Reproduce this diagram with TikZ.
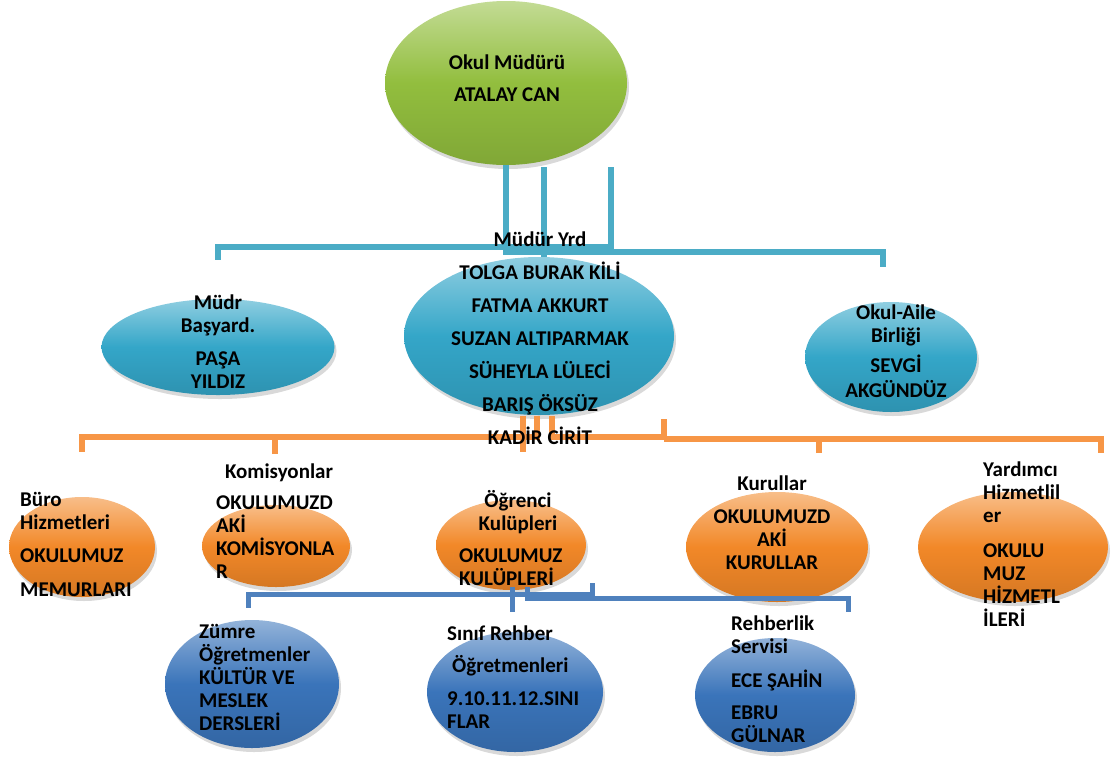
\documentclass[tikz,border=0pt]{standalone}
\usepackage{fontspec}
\setmainfont{Carlito}
\usetikzlibrary{shapes.geometric,shadows}
\definecolor{grnBall}{RGB}{146,190,62}
\definecolor{tealBall}{RGB}{52,166,200}
\definecolor{orgBall}{RGB}{242,136,40}
\definecolor{bluBall}{RGB}{58,116,186}
\definecolor{tealLine}{RGB}{75,172,198}
\definecolor{orgLine}{RGB}{247,150,70}
\definecolor{bluLine}{RGB}{79,129,189}
\tikzset{
  orb/.style={ellipse,inner sep=0pt,top color=#1!55!white,bottom color=#1!88!black,
    middle color=#1,drop shadow={opacity=.3,shadow xshift=2pt,shadow yshift=-4pt}},
  txt/.style={font=\fontsize{21}{23}\selectfont\bfseries,inner sep=0pt,align=center},
  txtl/.style={txt,align=left},
  tealLn/.style={tealLine,line width=5.5pt},
  orgLn/.style={orgLine,line width=6.5pt},
  bluLn/.style={bluLine,line width=5pt}
}

\begin{document}
\begin{tikzpicture}[x=1pt,y=-1pt]
\useasboundingbox (0,0) rectangle (1113,756);

\node[orb=grnBall,minimum width=242pt,minimum height=164pt] (mudur) at (506,83) {};
\node[orb=tealBall,minimum width=270pt,minimum height=158pt] (yrd) at (539,336) {};
\node[orb=tealBall,minimum width=233pt,minimum height=96pt] (basyrd) at (218,347) {};
\node[orb=tealBall,minimum width=172pt,minimum height=110pt] (aile) at (891,357) {};
\node[orb=orgBall,minimum width=146pt,minimum height=100pt] (buro) at (82,547) {};
\node[orb=orgBall,minimum width=148pt,minimum height=82pt] (komisyon) at (276,546) {};
\node[orb=orgBall,minimum width=150pt,minimum height=90pt] (kulup) at (511,545) {};
\node[orb=orgBall,minimum width=182pt,minimum height=110pt] (kurul) at (777,547) {};
\node[orb=orgBall,minimum width=190pt,minimum height=110pt] (yardimci) at (1013,547) {};
\node[orb=bluBall,minimum width=174pt,minimum height=128pt] (zumre) at (252,684) {};
\node[orb=bluBall,minimum width=176pt,minimum height=120pt] (sinif) at (515,692) {};
\node[orb=bluBall,minimum width=160pt,minimum height=114pt] (rehber) at (775,695) {};

\coordinate (m2) at (544,167);
\coordinate (m3) at (611,167);
\coordinate (basTop) at (218,260);
\coordinate (aileTop) at (883,267);
\draw[tealLn] (mudur.south) -- ++(0,87) -| (aileTop);
\draw[tealLn] (m2) -- (m2 |- yrd.north);
\draw[tealLn] (m3) -- ++(0,80) -| (basTop);

\coordinate (o1) at (523,416);
\coordinate (o2) at (537,416);
\coordinate (o3) at (552,416);
\coordinate (o4) at (664,419);
\coordinate (o5) at (664,439);
\coordinate (buroTop) at (82,452);
\coordinate (komTop) at (275,454);
\coordinate (kulupTop) at (523,452);
\coordinate (kurulTop) at (819,453);
\coordinate (yardTop) at (1101,453);
\draw[orgLn] (o1) -- (kulupTop);
\draw[orgLn] (o2) -- ++(0,21) -| (buroTop);
\draw[orgLn] (komTop) -- ++(0,-17);
\draw[orgLn] (o3) -- ++(0,21) -| (o4);
\draw[orgLn] (o5) -| (yardTop);
\draw[orgLn] (kurulTop) -- ++(0,-14);

\coordinate (k1) at (592,583);
\coordinate (k2) at (512,587);
\coordinate (k3) at (527,587);
\coordinate (zumTop) at (248,608);
\coordinate (sinTop) at (512,612);
\coordinate (rehTop) at (848,612);
\draw[bluLn] (k1) -- ++(0,11) -| (zumTop);
\draw[bluLn] (k2) -- (sinTop);
\draw[bluLn] (k3) -- ++(0,11) -| (rehTop);

\node[txt,anchor=north] (mudurtxt) at (507,55) {Okul Müdürü\\[9pt]ATALAY CAN};
\node[txt,anchor=north] (yrdtxt) at (540,232) {Müdür Yrd\\[10pt]TOLGA BURAK KİLİ\\[10pt]FATMA AKKURT\\[10pt]SUZAN ALTIPARMAK\\[10pt]SÜHEYLA LÜLECİ\\[10pt]BARIŞ ÖKSÜZ\\[10pt]KADİR CİRİT};
\node[txt,anchor=north] (bastxt) at (218,295) {Müdr\\Başyard.\\[10pt]PAŞA\\YILDIZ};
\node[txt,anchor=north] (ailetxt) at (896,305) {Okul-Aile\\Birliği\\[7pt]SEVGİ\\[2pt]AKGÜNDÜZ};
\node[txtl,anchor=north west] (burotxt) at (20,492) {Büro\\Hizmetleri\\[10pt]OKULUMUZ\\[11pt]MEMURLARI};
\node[txt,anchor=base] (komtitle) at (279,478) {Komisyonlar};
\node[txtl,anchor=north west] (komtxt) at (216,496) {OKULUMUZD\\AKİ\\KOMİSYONLA\\R};
\node[txt,anchor=north] (kuluptitle) at (518,490) {Öğrenci\\Kulüpleri};
\node[txtl,anchor=north west] (kuluptxt) at (459,549) {OKULUMUZ\\KULÜPLERİ};
\node[txt,anchor=north] (kurultxt) at (772,476) {Kurullar\\[10pt]OKULUMUZD\\AKİ\\KURULLAR};
\node[txtl,anchor=north west] (yardtxt) at (983,462) {Yardımcı\\Hizmetlil\\er\\[12pt]OKULU\\MUZ\\HİZMETL\\İLERİ};
\node[txtl,anchor=north west] (zumtxt) at (199,624) {Zümre\\Öğretmenler\\KÜLTÜR VE\\MESLEK\\DERSLERİ};
\node[txtl,anchor=north west] (siniftxt) at (447,626) {Sınıf Rehber\\[9pt]\hspace*{5pt}Öğretmenleri\\[10pt]9.10.11.12.SINI\\FLAR};
\node[txtl,anchor=north west] (rehbertxt) at (731,616) {Rehberlik\\Servisi\\[11pt]ECE ŞAHİN\\[9pt]EBRU\\GÜLNAR};
\end{tikzpicture}
\end{document}
